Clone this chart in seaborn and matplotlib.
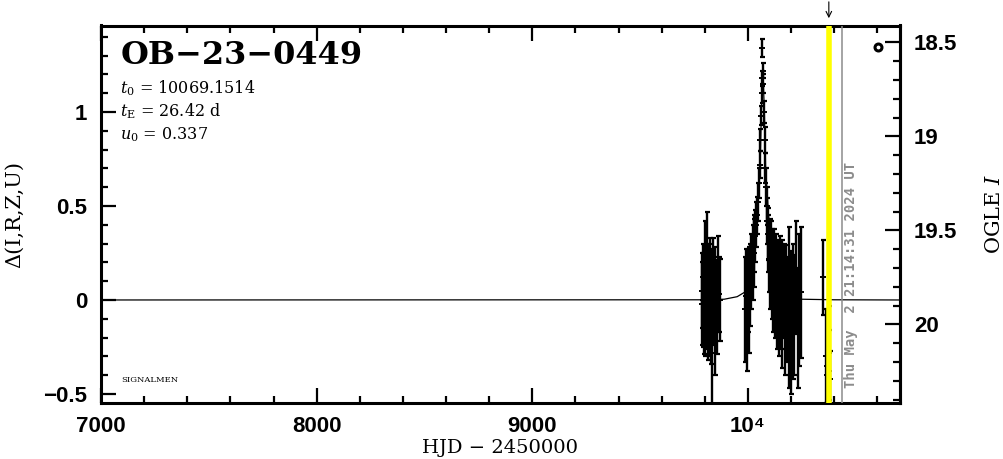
"""
plot.py — OGLE light curve of OB-23-0449 (SIGNALMEN style panel).
"""

import numpy as np
import matplotlib

matplotlib.use("Agg")
import matplotlib.pyplot as plt
from matplotlib.ticker import FixedLocator, FixedFormatter, MultipleLocator
import seaborn as sns

# ---------------------------------------------------------------- data
EVENT = "OB\u221223\u22120449"
PARAMS = [r"$t_0$ = 10069.1514", r"$t_{\rm E}$ = 26.42 d", r"$u_0$ = 0.337"]
STAMP = "Thu May  2 21:14:31 2024 UT"
I_BASE = 19.87          # OGLE I of the baseline (Delta = 0)
T_NOW = 10435.0         # grey line: time of plot
T_MARK = 10375.0        # yellow line
CIRCLE = (10601.0, 1.346)

xticks = [7000, 8000, 9000, 10000]
xtick_labels = ["7000", "8000", "9000", "10\u2074"]
yticks_left = [-0.5, 0, 0.5, 1]
ytick_labels_left = ["\u22120.5", "0", "0.5", "1"]
yticks_right = [18.5, 19, 19.5, 20]
ytick_labels_right = ["18.5", "19", "19.5", "20"]

# model curve (HJD-2450000, Delta mag)
model_t = [7000, 9800, 9890, 9950, 9990, 10010, 10030, 10043, 10056,
           10062.6, 10069.15, 10075.7, 10082, 10095, 10108, 10128,
           10148, 10188, 10250, 10400, 10705]
model_d = [0.0, 0.001, 0.004, 0.0175, 0.045, 0.133, 0.289, 0.45, 0.693,
           1.017, 1.225, 1.017, 0.693, 0.45, 0.289, 0.133, 0.045,
           0.0175, 0.004, 0.001, 0.0]

# 2022 season
t1 = [9787, 9789, 9791, 9793, 9795, 9797, 9799, 9801, 9803, 9805, 9807,
      9809, 9811, 9813, 9815, 9817, 9819, 9821, 9823, 9825, 9828, 9831,
      9834, 9837, 9840, 9843, 9846, 9849, 9852, 9856, 9860, 9865, 9869]
d1 = [0.05, -0.02, 0.12, 0.00, 0.08, -0.05, 0.15, 0.02, -0.08, 0.10, 0.04,
      -0.03, 0.20, 0.06, -0.10, 0.01, 0.09, -0.06, 0.13, 0.03, -0.12, 0.07,
      -0.28, 0.11, -0.04, 0.05, -0.15, 0.08, 0.02, -0.07, 0.10, 0.03, 0.00]
e1 = [0.20, 0.22, 0.18, 0.25, 0.20, 0.24, 0.27, 0.19, 0.22, 0.20, 0.18,
      0.23, 0.27, 0.20, 0.22, 0.19, 0.21, 0.24, 0.20, 0.18, 0.22, 0.20,
      0.30, 0.22, 0.20, 0.18, 0.25, 0.20, 0.19, 0.22, 0.24, 0.20, 0.22]

# 2023 season (event)
t2 = [9988, 9992, 9996, 10000, 10004, 10010, 10016, 10022, 10026, 10030,
      10034, 10038, 10042, 10046, 10050, 10054, 10057, 10060, 10063, 10065,
      10067, 10069, 10071, 10074, 10077, 10080, 10083, 10086, 10089, 10092,
      10095, 10098, 10101, 10104, 10107, 10110, 10113, 10116, 10119, 10122,
      10125, 10128, 10131, 10134, 10137, 10140, 10144, 10148, 10152, 10156,
      10160, 10165, 10170, 10175, 10180, 10188, 10198, 10207, 10214, 10222,
      10230, 10238, 10245]
d2 = [-0.05, 0.02, -0.08, 0.05, 0.00, 0.08, 0.15, 0.20, 0.25, 0.30,
      0.34, 0.40, 0.45, 0.52, 0.62, 0.72, 0.85, 0.98, 1.10, 1.18,
      1.34, 1.22, 1.15, 1.00, 0.85, 0.70, 0.60, 0.50, 0.42, 0.35,
      0.30, 0.22, 0.28, 0.15, 0.25, 0.10, 0.20, 0.05, 0.18, 0.12,
      0.02, 0.15, 0.08, -0.02, 0.10, 0.05, -0.05, 0.12, 0.00, 0.08,
      -0.08, 0.05, -0.10, 0.02, -0.05, -0.04, -0.12, -0.06, -0.08, 0.12,
      -0.15, 0.00, 0.04]
e2 = [0.28, 0.25, 0.30, 0.22, 0.28, 0.22, 0.20, 0.20, 0.18, 0.15,
      0.14, 0.12, 0.10, 0.10, 0.08, 0.07, 0.06, 0.05, 0.05, 0.04,
      0.05, 0.04, 0.05, 0.06, 0.07, 0.08, 0.10, 0.10, 0.12, 0.14,
      0.15, 0.18, 0.15, 0.20, 0.17, 0.20, 0.18, 0.22, 0.20, 0.21,
      0.22, 0.20, 0.22, 0.24, 0.22, 0.25, 0.25, 0.22, 0.26, 0.24,
      0.28, 0.25, 0.30, 0.27, 0.28, 0.43, 0.38, 0.36, 0.32, 0.30,
      0.32, 0.35, 0.35]

# 2024 season
t3 = [10350, 10362, 10365, 10368, 10371, 10374, 10377, 10380]
d3 = [0.12, -0.30, -0.40, -0.35, -0.45, -0.28, -0.38, -0.42]
e3 = [0.20, 0.25, 0.22, 0.20, 0.20, 0.25, 0.22, 0.15]

# ---------------------------------------------------------------- style
sns.set_style("ticks", {"axes.edgecolor": "black", "text.color": "black",
                        "xtick.color": "black", "ytick.color": "black",
                        "axes.labelcolor": "black"})
plt.rcParams["font.family"] = ["Liberation Sans", "DejaVu Sans"]
plt.rcParams["mathtext.fontset"] = "dejavuserif"
SERIF = ["DejaVu Serif", "DejaVu Sans"]

fig = plt.figure(figsize=(10.04, 4.59), dpi=100)
ax = fig.add_axes([101 / 1004, 1 - 403 / 459, 799 / 1004, 377.5 / 459])

# model
sns.lineplot(x=model_t, y=model_d, ax=ax, color="black", lw=0.9,
             sort=False, zorder=2)

# data with error bars
for t, d, e in [(t1, d1, e1), (t2, d2, e2), (t3, d3, e3)]:
    ax.errorbar(t, d, yerr=e, fmt="none", ecolor="black", elinewidth=1.7,
                capsize=1.8, capthick=1.6, zorder=3)
    sns.scatterplot(x=t, y=d, ax=ax, marker="_", s=14, color="black",
                    linewidth=1.4, zorder=4)

ax.axvline(T_MARK, color="#ffff00", lw=4, zorder=5)
ax.axvline(T_NOW, color="#8c8c8c", lw=1.1, zorder=5)
ax.plot(*CIRCLE, marker="o", ms=5, mfc="white", mec="black", mew=2.2,
        zorder=6)

ax.annotate("", xy=(T_MARK, 1.012), xycoords=("data", "axes fraction"),
            xytext=(T_MARK, 1.07), textcoords=("data", "axes fraction"),
            arrowprops=dict(arrowstyle="->", lw=0.8, color="black"))

ax.set_xlim(7000, 10705)
ax.set_ylim(-0.548, 1.46)

# ticks
ax.xaxis.set_major_locator(FixedLocator(xticks))
ax.xaxis.set_major_formatter(FixedFormatter(xtick_labels))
ax.xaxis.set_minor_locator(MultipleLocator(200))
ax.yaxis.set_major_locator(FixedLocator(yticks_left))
ax.yaxis.set_major_formatter(FixedFormatter(ytick_labels_left))
ax.yaxis.set_minor_locator(MultipleLocator(0.1))
ax.tick_params(which="both", direction="in", width=1.6, top=True,
               right=False, labelsize=16, colors="black")
ax.tick_params(which="major", length=11)
ax.tick_params(which="minor", length=5)
ax.tick_params(axis="x", pad=9)
ax.tick_params(axis="y", pad=10)
for lab in ax.get_xticklabels() + ax.get_yticklabels():
    lab.set_fontweight("bold")
for sp in ax.spines.values():
    sp.set_linewidth(2.2)
    sp.set_color("black")
    sp.set_visible(True)

sec = ax.secondary_yaxis("right", functions=(lambda d: I_BASE - d,
                                              lambda i: I_BASE - i))
sec.yaxis.set_major_locator(FixedLocator(yticks_right))
sec.yaxis.set_major_formatter(FixedFormatter(ytick_labels_right))
sec.yaxis.set_minor_locator(MultipleLocator(0.1))
sec.tick_params(which="both", direction="in", width=1.6, labelsize=16,
                colors="black")
sec.tick_params(which="major", length=11, pad=10)
sec.tick_params(which="minor", length=5)
for lab in sec.get_yticklabels():
    lab.set_fontweight("bold")
sec.spines["right"].set_linewidth(2.2)
sec.spines["right"].set_color("black")
sec.set_ylabel("OGLE $I$", family=SERIF, fontsize=15, labelpad=20,
               color="black")

ax.set_xlabel("HJD \u2212 2450000", family=SERIF, fontsize=14,
              color="black", va="center")
ax.xaxis.set_label_coords(0.5, -0.12)
ax.set_ylabel("\u0394(I,R,Z,U)", family=SERIF, fontsize=15, labelpad=14,
              color="black")

# annotations
ax.text(0.024, 0.92, EVENT, transform=ax.transAxes, family=SERIF,
        fontsize=23, fontweight="bold", va="center", ha="left")
for txt, yy in zip(PARAMS, [0.834, 0.773, 0.712]):
    ax.text(0.024, yy, txt, transform=ax.transAxes, family=SERIF,
            fontsize=11.5, va="center", ha="left")
ax.text(0.025, 0.061, "SIGNALMEN", transform=ax.transAxes, family=SERIF,
        fontsize=6, va="center", ha="left")
ax.text(10478, -0.47, STAMP, rotation=90, ha="center", va="bottom",
        family=["DejaVu Sans Mono"], fontweight="bold", fontsize=10,
        color="#8c8c8c", zorder=6)

fig.savefig("out.png", dpi=100)
plt.close(fig)
